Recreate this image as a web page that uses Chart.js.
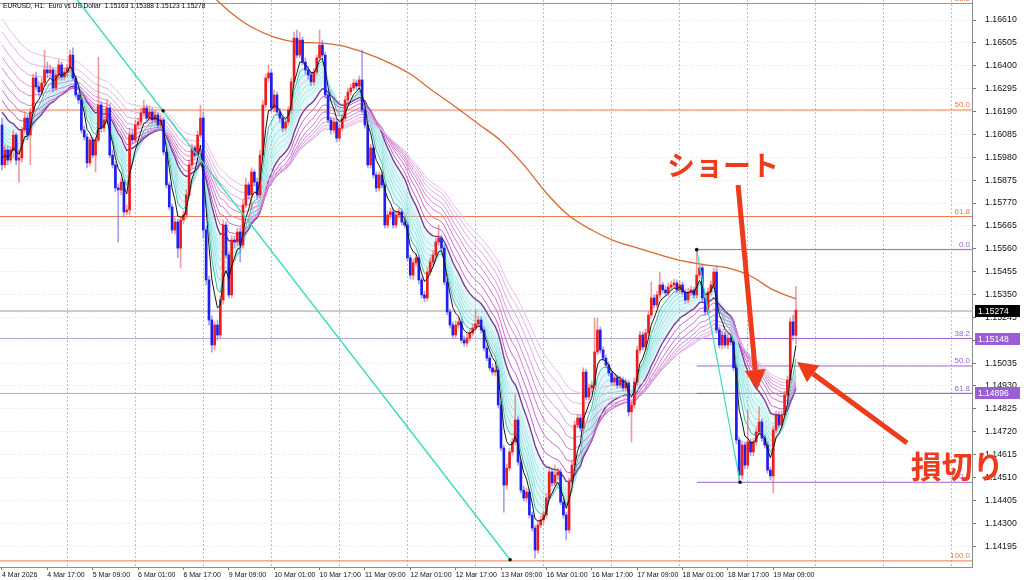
<!DOCTYPE html>
<html>
<head>
<meta charset="utf-8">
<script src="https://cdn.jsdelivr.net/npm/chart.js@4.4.1/dist/chart.umd.min.js"></script>
<style>
  html, body { margin: 0; padding: 0; background: #fff; }
  #wrap { width: 1024px; height: 580px; position: relative; }
</style>
</head>
<body>
<div id="wrap"><canvas id="chart"></canvas></div>
<script>
// EURUSD H1, 4 Mar 01:00 .. 19 Mar 17:00 (one entry per bar)
const opens = [1.16128,1.15945,1.16013,1.15967,1.16013,1.16082,1.15967,1.15977,1.16105,1.16160,1.16082,1.16188,1.16344,1.16303,1.16280,1.16321,1.16381,1.16367,1.16381,1.16298,
1.16358,1.16404,1.16349,1.16371,1.16390,1.16449,1.16344,1.16266,1.16243,1.16105,1.16073,1.15954,1.16059,1.15990,1.16059,1.16220,1.16114,1.16151,1.16206,1.15990,
1.15945,1.15839,1.15830,1.15866,1.15729,1.15738,1.16082,1.16059,1.16128,1.16142,1.16183,1.16206,1.16160,1.16188,1.16151,1.16174,1.16128,1.16151,1.16004,1.15853,
1.15752,1.15646,1.15683,1.15563,1.15692,1.15715,1.15807,1.15945,1.16023,1.15990,1.16082,1.16160,1.15646,1.15417,1.15233,1.15118,1.15210,1.15164,1.15325,1.15669,
1.15531,1.15348,1.15600,1.15591,1.15637,1.15577,1.15761,1.15853,1.15807,1.15912,1.15866,1.15807,1.15990,1.16220,1.16344,1.16367,1.16206,1.16266,1.16188,1.16160,
1.16114,1.16142,1.16197,1.16326,1.16527,1.16449,1.16518,1.16417,1.16381,1.16358,1.16326,1.16371,1.16436,1.16495,1.16449,1.16266,1.16151,1.16105,1.16142,1.16068,
1.16114,1.16160,1.16243,1.16280,1.16298,1.16321,1.16307,1.16335,1.16197,1.16128,1.15945,1.16023,1.15899,1.15839,1.15899,1.15853,1.15669,1.15715,1.15729,1.15669,
1.15715,1.15729,1.15683,1.15669,1.15518,1.15439,1.15495,1.15518,1.15417,1.15348,1.15334,1.15453,1.15499,1.15531,1.15591,1.15609,1.15563,1.15407,1.15270,1.15210,
1.15164,1.15210,1.15224,1.15141,1.15127,1.15150,1.15173,1.15196,1.15215,1.15233,1.15187,1.15104,1.15058,1.15013,1.14994,1.15003,1.14843,1.14645,1.14475,1.14553,
1.14627,1.14673,1.14774,1.14581,1.14452,1.14416,1.14443,1.14338,1.14278,1.14177,1.14292,1.14315,1.14338,1.14416,1.14535,1.14485,1.14521,1.14535,1.14397,1.14338,
1.14269,1.14489,1.14567,1.14751,1.14783,1.14737,1.14994,1.14879,1.14921,1.14934,1.15086,1.15187,1.15095,1.15058,1.15026,1.14990,1.14948,1.14967,1.14934,1.14957,
1.14921,1.14944,1.14811,1.14843,1.14948,1.15095,1.15164,1.15109,1.15173,1.15256,1.15334,1.15302,1.15348,1.15394,1.15371,1.15357,1.15384,1.15394,1.15403,1.15371,
1.15394,1.15361,1.15325,1.15361,1.15371,1.15348,1.15439,1.15472,1.15334,1.15270,1.15361,1.15394,1.15453,1.15187,1.15118,1.15164,1.15118,1.15150,1.15132,1.15013,
1.14682,1.14521,1.14659,1.14567,1.14673,1.14627,1.14673,1.14719,1.14765,1.14691,1.14659,1.14544,1.14517,1.14728,1.14797,1.14751,1.14797,1.14889,1.14957,1.15224,
1.15163];
const highs = [1.16160,1.16036,1.16032,1.16027,1.16105,1.16091,1.16013,1.16119,1.16188,1.16174,1.16206,1.16362,1.16371,1.16326,1.16344,1.16472,1.16417,1.16404,1.16390,1.16381,
1.16427,1.16417,1.16390,1.16408,1.16472,1.16482,1.16353,1.16280,1.16252,1.16124,1.16087,1.16068,1.16073,1.16073,1.16440,1.16234,1.16169,1.16243,1.16225,1.16013,
1.15958,1.15857,1.15885,1.15876,1.15761,1.16114,1.16105,1.16151,1.16160,1.16206,1.16243,1.16220,1.16215,1.16206,1.16197,1.16188,1.16174,1.16165,1.16013,1.15866,
1.15765,1.15701,1.15697,1.15710,1.15733,1.15830,1.15967,1.16041,1.16032,1.16101,1.16220,1.16188,1.15664,1.15435,1.15251,1.15224,1.15233,1.15343,1.15692,1.15683,
1.15545,1.15619,1.15619,1.15655,1.15655,1.15784,1.15885,1.15866,1.15931,1.15922,1.15885,1.16013,1.16243,1.16362,1.16404,1.16381,1.16289,1.16280,1.16206,1.16174,
1.16160,1.16215,1.16344,1.16555,1.16564,1.16555,1.16532,1.16436,1.16399,1.16371,1.16390,1.16449,1.16564,1.16518,1.16463,1.16280,1.16165,1.16160,1.16156,1.16133,
1.16174,1.16261,1.16298,1.16316,1.16339,1.16335,1.16353,1.16472,1.16211,1.16142,1.16041,1.16036,1.15912,1.15912,1.15912,1.15866,1.15733,1.15747,1.15743,1.15733,
1.15747,1.15743,1.15701,1.15683,1.15531,1.15513,1.15536,1.15531,1.15430,1.15366,1.15472,1.15518,1.15550,1.15609,1.15669,1.15623,1.15577,1.15421,1.15283,1.15224,
1.15228,1.15242,1.15238,1.15159,1.15169,1.15192,1.15215,1.15279,1.15251,1.15247,1.15201,1.15118,1.15072,1.15031,1.15022,1.15017,1.14856,1.14659,1.14572,1.14645,
1.14691,1.14889,1.14788,1.14595,1.14471,1.14462,1.14457,1.14351,1.14292,1.14310,1.14333,1.14356,1.14434,1.14553,1.14549,1.14567,1.14553,1.14549,1.14411,1.14351,
1.14508,1.14586,1.14769,1.14801,1.14797,1.15013,1.15008,1.14939,1.14953,1.15242,1.15242,1.15201,1.15109,1.15072,1.15040,1.15003,1.14985,1.14980,1.14976,1.14971,
1.14962,1.14957,1.14861,1.14967,1.15113,1.15182,1.15178,1.15192,1.15274,1.15407,1.15348,1.15366,1.15453,1.15407,1.15389,1.15403,1.15412,1.15421,1.15417,1.15412,
1.15407,1.15375,1.15380,1.15389,1.15384,1.15556,1.15490,1.15485,1.15348,1.15380,1.15412,1.15472,1.15481,1.15201,1.15182,1.15178,1.15169,1.15169,1.15146,1.15026,
1.14696,1.14677,1.14673,1.14820,1.14687,1.14691,1.14737,1.14833,1.14778,1.14705,1.14673,1.14558,1.14746,1.14815,1.14811,1.14815,1.14907,1.14976,1.15242,1.15256,
1.15388];
const lows = [1.15922,1.15931,1.15945,1.15954,1.15977,1.15945,1.15866,1.15958,1.16091,1.16059,1.15945,1.16174,1.16289,1.16261,1.16266,1.16307,1.16344,1.16353,1.16280,1.16289,
1.16335,1.16335,1.16335,1.16353,1.16371,1.16335,1.16252,1.16225,1.16091,1.16059,1.15931,1.15940,1.15977,1.15912,1.16050,1.16096,1.16096,1.16137,1.15977,1.15931,
1.15821,1.15591,1.15807,1.15706,1.15715,1.15715,1.16041,1.16046,1.16114,1.16124,1.16169,1.16147,1.16147,1.16133,1.16137,1.16114,1.16114,1.15990,1.15839,1.15738,
1.15632,1.15628,1.15518,1.15472,1.15674,1.15701,1.15793,1.15931,1.15977,1.15977,1.16068,1.15609,1.15394,1.15210,1.15086,1.15095,1.15141,1.15150,1.15306,1.15518,
1.15334,1.15334,1.15563,1.15573,1.15499,1.15563,1.15747,1.15788,1.15738,1.15848,1.15793,1.15793,1.15977,1.16206,1.16326,1.16188,1.16188,1.16174,1.16142,1.16096,
1.16101,1.16128,1.16183,1.16312,1.16436,1.16436,1.16404,1.16362,1.16339,1.16307,1.16312,1.16358,1.16427,1.16436,1.16252,1.16137,1.16087,1.16091,1.16050,1.16055,
1.16101,1.16147,1.16229,1.16266,1.16284,1.16293,1.16293,1.16183,1.16114,1.15931,1.15931,1.15885,1.15821,1.15825,1.15839,1.15655,1.15655,1.15697,1.15655,1.15655,
1.15701,1.15669,1.15655,1.15504,1.15421,1.15417,1.15481,1.15398,1.15334,1.15316,1.15320,1.15439,1.15485,1.15518,1.15577,1.15550,1.15394,1.15256,1.15196,1.15150,
1.15150,1.15196,1.15127,1.15113,1.15113,1.15136,1.15159,1.15182,1.15201,1.15173,1.15091,1.15045,1.14999,1.14980,1.14976,1.14829,1.14631,1.14351,1.14457,1.14540,
1.14613,1.14659,1.14567,1.14439,1.14402,1.14397,1.14324,1.14264,1.14140,1.14163,1.14278,1.14296,1.14324,1.14402,1.14471,1.14471,1.14503,1.14384,1.14324,1.14223,
1.14255,1.14475,1.14553,1.14737,1.14723,1.14723,1.14866,1.14866,1.14902,1.14921,1.15072,1.15081,1.15045,1.15013,1.14976,1.14934,1.14930,1.14921,1.14921,1.14907,
1.14907,1.14792,1.14673,1.14829,1.14934,1.15081,1.15095,1.15095,1.15159,1.15242,1.15288,1.15288,1.15334,1.15357,1.15343,1.15343,1.15371,1.15380,1.15357,1.15357,
1.15348,1.15311,1.15311,1.15348,1.15334,1.15334,1.15421,1.15320,1.15256,1.15256,1.15348,1.15380,1.15173,1.15104,1.15100,1.15104,1.15100,1.15118,1.14999,1.14664,
1.14488,1.14503,1.14549,1.14553,1.14609,1.14609,1.14659,1.14705,1.14677,1.14645,1.14530,1.14498,1.14439,1.14714,1.14737,1.14737,1.14783,1.14875,1.14944,1.15141,
1.15123];
const closes = [1.15945,1.16013,1.15967,1.16013,1.16082,1.15967,1.15977,1.16105,1.16160,1.16082,1.16188,1.16344,1.16303,1.16280,1.16321,1.16381,1.16367,1.16381,1.16298,1.16358,
1.16404,1.16349,1.16371,1.16390,1.16449,1.16344,1.16266,1.16243,1.16105,1.16073,1.15954,1.16059,1.15990,1.16059,1.16220,1.16114,1.16151,1.16206,1.15990,1.15945,
1.15839,1.15830,1.15866,1.15729,1.15738,1.16082,1.16059,1.16128,1.16142,1.16183,1.16206,1.16160,1.16188,1.16151,1.16174,1.16128,1.16151,1.16004,1.15853,1.15752,
1.15646,1.15683,1.15563,1.15692,1.15715,1.15807,1.15945,1.16023,1.15990,1.16082,1.16160,1.15646,1.15417,1.15233,1.15118,1.15210,1.15164,1.15325,1.15669,1.15531,
1.15348,1.15600,1.15591,1.15637,1.15577,1.15761,1.15853,1.15807,1.15912,1.15866,1.15807,1.15990,1.16220,1.16344,1.16367,1.16206,1.16266,1.16188,1.16160,1.16114,
1.16142,1.16197,1.16326,1.16527,1.16449,1.16518,1.16417,1.16381,1.16358,1.16326,1.16371,1.16436,1.16495,1.16449,1.16266,1.16151,1.16105,1.16142,1.16068,1.16114,
1.16160,1.16243,1.16280,1.16298,1.16321,1.16307,1.16335,1.16197,1.16128,1.15945,1.16023,1.15899,1.15839,1.15899,1.15853,1.15669,1.15715,1.15729,1.15669,1.15715,
1.15729,1.15683,1.15669,1.15518,1.15439,1.15495,1.15518,1.15417,1.15348,1.15334,1.15453,1.15499,1.15531,1.15591,1.15609,1.15563,1.15407,1.15270,1.15210,1.15164,
1.15210,1.15224,1.15141,1.15127,1.15150,1.15173,1.15196,1.15215,1.15233,1.15187,1.15104,1.15058,1.15013,1.14994,1.15003,1.14843,1.14645,1.14475,1.14553,1.14627,
1.14673,1.14774,1.14581,1.14452,1.14416,1.14443,1.14338,1.14278,1.14177,1.14292,1.14315,1.14338,1.14416,1.14535,1.14485,1.14521,1.14535,1.14397,1.14338,1.14269,
1.14489,1.14567,1.14751,1.14783,1.14737,1.14994,1.14879,1.14921,1.14934,1.15086,1.15187,1.15095,1.15058,1.15026,1.14990,1.14948,1.14967,1.14934,1.14957,1.14921,
1.14944,1.14811,1.14843,1.14948,1.15095,1.15164,1.15109,1.15173,1.15256,1.15334,1.15302,1.15348,1.15394,1.15371,1.15357,1.15384,1.15394,1.15403,1.15371,1.15394,
1.15361,1.15325,1.15361,1.15371,1.15348,1.15439,1.15472,1.15334,1.15270,1.15361,1.15394,1.15453,1.15187,1.15118,1.15164,1.15118,1.15150,1.15132,1.15013,1.14682,
1.14521,1.14659,1.14567,1.14673,1.14627,1.14673,1.14719,1.14765,1.14691,1.14659,1.14544,1.14517,1.14728,1.14797,1.14751,1.14797,1.14889,1.14957,1.15224,1.15163,
1.15278];

const xLabels = ["4 Mar 2026","4 Mar 17:00","5 Mar 09:00","6 Mar 01:00","6 Mar 17:00","9 Mar 09:00","10 Mar 01:00","10 Mar 17:00","11 Mar 09:00",
  "12 Mar 01:00","12 Mar 17:00","13 Mar 09:00","16 Mar 01:00","16 Mar 17:00","17 Mar 09:00","18 Mar 01:00","18 Mar 17:00","19 Mar 09:00"];
const xLabelBars = [0,16,32,48,64,80,96,112,128,144,160,176,192,208,224,240,256,272];
const dayBars = [23,47,71,95,119,143,167,191,215,239,263,287,311,335];
const yTicks = [1.14195,1.14300,1.14405,1.14510,1.14615,1.14720,1.14825,1.14930,1.15035,1.15140,1.15245,1.15350,
  1.15455,1.15560,1.15665,1.15770,1.15875,1.15980,1.16085,1.16190,1.16295,1.16400,1.16505,1.16610];

// 200 MA (brown) read at a few bars
const maLongBars = [64,72,80,88,96,104,112,120,128,136,144,152,160,168,176,184,192,200,208,216,224,232,240,248,256,264,272,280];
const maLongVals = [1.16840,1.16748,1.16652,1.16578,1.16532,1.16509,1.16505,1.16491,1.16459,1.16417,1.16362,1.16284,1.16211,1.16133,
  1.16055,1.15945,1.15816,1.15711,1.15646,1.15596,1.15564,1.15532,1.15504,1.15486,1.15472,1.15435,1.15371,1.15330];

// EMA ribbon: periods and their value just before the first bar
const emaPeriods = [5, 7, 9, 11, 13, 15, 17, 21, 25, 30, 35, 40, 45, 51, 57, 63];
const emaSeeds = [1.15990,1.16050,1.16082,1.16105,1.16124,1.16142,1.16160,1.16211,1.16266,1.16312,1.16358,1.16413,1.16463,1.16518,1.16578,1.16638];

const orangeFibLevels = ["38.2","50.0","61.8","100.0"];
const orangeFibPrices = [1.16686,1.16197,1.15708,1.14127];
const purpleFibLevels = ["0.0","38.2","50.0","61.8","100.0"];
const purpleFibPrices = [1.15556,1.15148,1.15022,1.14896,1.14488];
const purpleFibStart = 245;
const lastPrice = 1.15274;
const markedLines = [1.15148, 1.14896];

const trendBars = [20, 56.8, 179.2];
const trendPrices = [1.16813, 1.16193, 1.14132];
const trend2Bars = [245, 260.3];
const trend2Prices = [1.15556, 1.14488];

const noteTexts = ["ショート", "損切り"];
const noteBars = [254.3, 336.9];
const notePrices = [1.15945, 1.14563];
const arrowTailBars = [259.6, 319.2];
const arrowTailPrices = [1.15853, 1.14668];
const arrowTipBars = [266.3, 280.4];
const arrowTipPrices = [1.14912, 1.15040];

const X_MIN = -0.7, X_MAX = 342.1;
const FONT = '"Liberation Sans", Arial, sans-serif';

function emaSeries(period, seed) {
  const k = 2 / (period + 1);
  let v = seed;
  return closes.map((c, i) => {
    v = v + k * (c - v);
    return { x: i, y: v };
  });
}

function hLine(price, from, to, color, order) {
  return {
    type: 'line', data: [{ x: from, y: price }, { x: to, y: price }],
    borderColor: color, borderWidth: 1, pointRadius: 0, order
  };
}

const up = closes.map((c, i) => c >= opens[i]);
const datasets = [];

orangeFibPrices.forEach(p => datasets.push(hLine(p, X_MIN - 1, X_MAX + 1, '#ef7a4a', 30)));
datasets.push(hLine(lastPrice, X_MIN - 1, X_MAX + 1, '#9a9a9a', 30));
markedLines.forEach(p => datasets.push(hLine(p, X_MIN - 1, X_MAX + 1, '#b2a8d8', 30)));
purpleFibPrices.forEach(p => datasets.push(hLine(p, purpleFibStart, X_MAX + 1, '#9a62d2', 29)));

datasets.push({
  type: 'line', data: maLongBars.map((b, i) => ({ x: b, y: maLongVals[i] })),
  borderColor: '#d9692e', borderWidth: 1.3, pointRadius: 0, cubicInterpolationMode: 'monotone', order: 25
});

const emaColors = ['#151515', '#38b8a4', '#8fdfdf', '#97e2e2', '#a0e6e6', '#a9e9e9', '#b2ecec', '#7a3a9c',
  '#c65ac9', '#cb69ce', '#d078d3', '#d487d7', '#d896db', '#dca5df', '#e0b2e3', '#e4bfe7'];
const emaIndex = [];
emaPeriods.forEach((p, k) => {
  emaIndex.push(datasets.length);
  datasets.push({
    type: 'line', data: emaSeries(p, emaSeeds[k]),
    borderColor: emaColors[k], borderWidth: k === 7 ? 1.4 : 1,
    pointRadius: 0, order: k === 0 ? 1 : 10 + (emaPeriods.length - k)
  });
});
// light cyan band between the fast ribbon and the purple line
datasets[emaIndex[1]].fill = { target: emaIndex[7] };
datasets[emaIndex[1]].backgroundColor = 'rgba(140,226,226,0.24)';

datasets.push({
  type: 'bar', data: closes.map((_, i) => ({ x: i, y: [lows[i], highs[i]] })),
  backgroundColor: up.map(u => u ? 'rgba(232,90,90,0.6)' : 'rgba(100,100,225,0.6)'),
  barThickness: 1, grouped: false, order: 4
});
datasets.push({
  type: 'bar', data: closes.map((_, i) => ({ x: i, y: [opens[i], closes[i]] })),
  backgroundColor: up.map(u => u ? '#ee1c1c' : '#1e1ef0'),
  barThickness: 2, grouped: false, minBarLength: 1, order: 3
});

datasets.push({
  type: 'line', data: trendBars.map((b, i) => ({ x: b, y: trendPrices[i] })),
  borderColor: '#3ddcbc', borderWidth: 1.5, pointRadius: [0, 1.8, 1.8],
  pointBackgroundColor: '#111', pointBorderWidth: 0, order: 0
});
datasets.push({
  type: 'line', data: trend2Bars.map((b, i) => ({ x: b, y: trend2Prices[i] })),
  borderColor: '#3ddcbc', borderWidth: 1.2, pointRadius: 1.8,
  pointBackgroundColor: '#111', pointBorderWidth: 0, order: 0
});

function drawArrow(ctx, x1, y1, x2, y2) {
  const ang = Math.atan2(y2 - y1, x2 - x1);
  const hl = 20, hw = 21;
  const bx = x2 - hl * Math.cos(ang), by = y2 - hl * Math.sin(ang);
  ctx.lineWidth = 5;
  ctx.beginPath(); ctx.moveTo(x1, y1); ctx.lineTo(bx, by); ctx.stroke();
  ctx.beginPath();
  ctx.moveTo(x2, y2);
  ctx.lineTo(bx + hw / 2 * Math.sin(ang), by - hw / 2 * Math.cos(ang));
  ctx.lineTo(bx - hw / 2 * Math.sin(ang), by + hw / 2 * Math.cos(ang));
  ctx.closePath(); ctx.fill();
}

const overlay = {
  id: 'overlay',
  afterDraw(chart) {
    const { ctx, chartArea: a } = chart;
    const x = chart.scales.x, y = chart.scales.y;
    ctx.save();
    ctx.font = '8px ' + FONT;
    ctx.textAlign = 'right';
    ctx.textBaseline = 'bottom';
    ctx.fillStyle = '#ec7a4c';
    orangeFibPrices.forEach((p, i) => ctx.fillText(orangeFibLevels[i], a.right - 2, y.getPixelForValue(p) - 1));
    ctx.fillStyle = '#9a62d2';
    purpleFibPrices.forEach((p, i) => ctx.fillText(purpleFibLevels[i], a.right - 2, y.getPixelForValue(p) - 1));

    ctx.font = '8.5px ' + FONT;
    const box = (p, bg) => {
      const py = Math.round(y.getPixelForValue(p));
      ctx.fillStyle = bg;
      ctx.fillRect(a.right + 3, py - 6, 45, 12);
      ctx.fillStyle = '#fff';
      ctx.textAlign = 'left';
      ctx.textBaseline = 'middle';
      ctx.fillText(p.toFixed(5), a.right + 6, py + 0.5);
    };
    box(lastPrice, '#000');
    markedLines.forEach(p => box(p, '#9a5fd6'));

    ctx.fillStyle = '#000';
    ctx.textAlign = 'left';
    ctx.textBaseline = 'middle';
    ctx.font = '6.6px ' + FONT;
    ctx.fillText('EURUSD, H1:  Euro vs US Dollar  ' + [opens[280], highs[280], lows[280], closes[280]].map(v => v.toFixed(5)).join(' '), a.left + 3, a.top + 6);

    ctx.fillStyle = '#ee3b1c';
    ctx.strokeStyle = '#ee3b1c';
    arrowTailBars.forEach((b, i) => drawArrow(ctx,
      x.getPixelForValue(b), y.getPixelForValue(arrowTailPrices[i]),
      x.getPixelForValue(arrowTipBars[i]), y.getPixelForValue(arrowTipPrices[i])));
    ctx.textAlign = 'center';
    ctx.textBaseline = 'middle';
    noteTexts.forEach((t, i) => {
      ctx.font = 'bold ' + (i === 0 ? 28 : 31) + 'px "Noto Sans CJK JP"';
      ctx.fillText(t, x.getPixelForValue(noteBars[i]), y.getPixelForValue(notePrices[i]));
    });
    ctx.restore();
  }
};

new Chart(document.getElementById('chart'), {
  type: 'bar',
  data: { datasets },
  options: {
    responsive: true,
    maintainAspectRatio: false,
    animation: false,
    events: [],
    layout: { padding: 0, autoPadding: false },
    plugins: { legend: { display: false }, tooltip: { enabled: false } },
    scales: {
      x: {
        type: 'linear', min: X_MIN, max: X_MAX, offset: false, position: 'bottom',
        afterBuildTicks: s => { s.ticks = xLabelBars.map(v => ({ value: v })); },
        afterFit: s => { s.height = 13; s.paddingLeft = 0; s.paddingRight = 0; },
        ticks: {
          autoSkip: false, maxRotation: 0, minRotation: 0, align: 'start', padding: 1,
          color: '#111', font: { size: 7, family: FONT },
          callback: v => { const k = xLabelBars.indexOf(v); return k >= 0 ? xLabels[k] : ''; }
        },
        grid: { drawOnChartArea: false, offset: false, tickLength: 3, color: '#777' },
        border: { display: true, color: '#8c8c8c' }
      },
      xd: {
        type: 'linear', min: X_MIN, max: X_MAX, offset: false, position: 'bottom',
        afterBuildTicks: s => { s.ticks = dayBars.map(v => ({ value: v })); },
        afterFit: s => { s.height = 0; s.paddingLeft = 0; s.paddingRight = 0; },
        ticks: { display: false },
        grid: { drawTicks: false, offset: false, color: '#bdbdbd' },
        border: { display: false, dash: [2, 2] }
      },
      y: {
        type: 'linear', position: 'right', min: 1.14099, max: 1.16702,
        afterBuildTicks: s => { s.ticks = yTicks.map(v => ({ value: v })); },
        afterFit: s => { s.width = 52; s.paddingTop = 0; s.paddingBottom = 0; },
        ticks: { color: '#111', font: { size: 8.8, family: FONT }, padding: 9, callback: v => v.toFixed(5) },
        grid: { color: '#e2e2e2', tickLength: 4, tickColor: '#777' },
        border: { display: true, color: '#8c8c8c', dash: [1, 2] }
      }
    }
  },
  plugins: [overlay]
});
</script>
</body>
</html>
